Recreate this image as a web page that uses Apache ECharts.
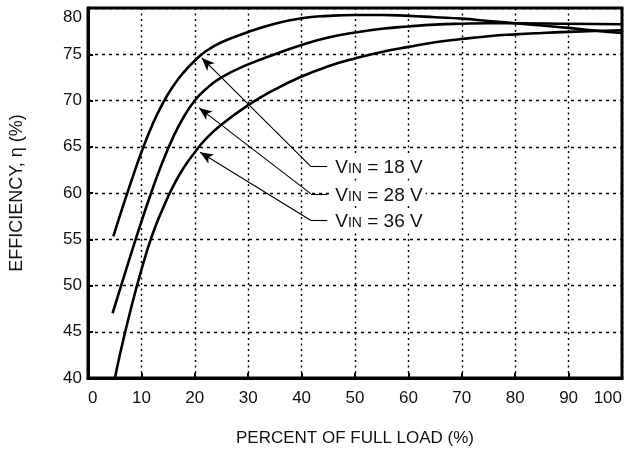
<!DOCTYPE html>
<html>
<head>
<meta charset="utf-8">
<script src="https://cdn.jsdelivr.net/npm/echarts@6/dist/echarts.min.js"></script>
<style>
html,body{margin:0;padding:0;background:#fff;}
#c{width:640px;height:456px;}
</style>
</head>
<body>
<div id="c"></div>
<script>
// ---- data ----
const load18 = [4.75, 6, 8, 10, 12, 14, 16, 18, 20, 22, 25, 30, 35, 40, 45, 50, 55, 60, 65, 70, 75, 80, 85, 90, 95, 100];
const eff18  = [55.3, 57.6, 61.1, 64.4, 67.3, 69.7, 71.6, 73.1, 74.3, 75.3, 76.3, 77.4, 78.3, 78.9, 79.15, 79.25, 79.25, 79.15, 79.0, 78.85, 78.6, 78.35, 78.1, 77.85, 77.55, 77.3];

const load28 = [4.6, 6, 8, 10, 12, 14, 16, 18, 20, 22, 25, 30, 35, 40, 45, 50, 55, 60, 65, 70, 75, 80, 90, 100];
const eff28  = [47.0, 49.6, 53.3, 56.9, 60.3, 63.4, 66.1, 68.3, 70.0, 71.2, 72.5, 73.9, 75.0, 76.0, 76.8, 77.35, 77.75, 78.0, 78.2, 78.3, 78.35, 78.35, 78.3, 78.25];

const load36 = [5.05, 6, 8, 10, 12, 14, 16, 18, 20, 22, 25, 30, 35, 40, 45, 50, 55, 60, 65, 70, 75, 80, 85, 90, 95, 100];
const eff36  = [40.0, 42.6, 47.4, 51.7, 55.4, 58.3, 60.8, 62.8, 64.4, 65.8, 67.4, 69.5, 71.2, 72.6, 73.7, 74.55, 75.25, 75.8, 76.3, 76.65, 76.95, 77.15, 77.3, 77.42, 77.52, 77.6];

const seriesVin = ['18', '28', '36'];
// annotations (data coordinates): arrow tip and label leader
const arrowTipX = [21.3, 20.8, 21.0];
const arrowTipY = [74.6, 69.2, 64.4];
const leaderX0 = [41.76, 41.76, 41.76];
const leaderX1 = [44.8, 44.8, 44.8];
const leaderY  = [62.86, 59.91, 57.03];

const xMin = 0, xMax = 100, xStep = 10;
const yMin = 40, yMax = 80, yStep = 5;

const FONT = "'Liberation Sans', Arial, Helvetica, sans-serif";
const TXT = '#111';

function pairs(xs, ys) { return xs.map((x, i) => [x, ys[i]]); }
const allX = [load18, load28, load36];
const allY = [eff18, eff28, eff36];

const series = seriesVin.map((v, i) => ({
  type: 'line',
  data: pairs(allX[i], allY[i]),
  smooth: 0.5,
  showSymbol: false,
  clip: true,
  lineStyle: { color: '#000', width: 2.6 },
  silent: true,
  z: 3,
  markLine: {
    silent: true,
    animation: false,
    symbolSize: [8, 13],
    lineStyle: { color: '#000', width: 1.1, type: 'solid' },
    emphasis: { disabled: true },
    data: [
      [
        { coord: [leaderX0[i], leaderY[i]], symbol: 'none', label: { show: false } },
        { coord: [arrowTipX[i], arrowTipY[i]], symbol: 'arrow' }
      ],
      [
        { coord: [leaderX0[i], leaderY[i]], symbol: 'none' },
        {
          coord: [leaderX1[i], leaderY[i]], symbol: 'none',
          label: {
            show: true,
            position: 'end',
            distance: 5,
            backgroundColor: '#fff',
            padding: [1, 3, 1, 3],
            formatter: '{v|V}{s|IN}{v| = ' + v + ' V}',
            rich: {
              v: { fontSize: 19, fontFamily: FONT, color: TXT, lineHeight: 22, verticalAlign: 'bottom' },
              s: { fontSize: 14, fontFamily: FONT, color: TXT, lineHeight: 22, verticalAlign: 'bottom', padding: [0, 0, 1, 0] }
            }
          }
        }
      ]
    ]
  }
}));

const chart = echarts.init(document.getElementById('c'), null, { renderer: 'canvas' });
chart.setOption({
  animation: false,
  backgroundColor: '#fff',
  grid: { left: 88, right: 18, top: 8, bottom: 78, show: true, borderColor: '#000', borderWidth: 3, backgroundColor: 'transparent' },
  xAxis: {
    type: 'value', min: xMin, max: xMax, interval: xStep,
    name: 'PERCENT OF FULL LOAD (%)', nameLocation: 'middle', nameGap: 52,
    nameTextStyle: { fontSize: 17, fontFamily: FONT, color: TXT },
    axisLine: { show: true, lineStyle: { color: '#000', width: 3 } },
    axisTick: { show: true, inside: true, length: 5, lineStyle: { color: '#000', width: 2 } },
    axisLabel: { fontSize: 17, fontFamily: FONT, color: TXT, margin: 12, alignMinLabel: 'left', alignMaxLabel: 'right' },
    splitLine: { show: true, lineStyle: { color: '#000', width: 1.4, type: [2, 3.5] } }
  },
  yAxis: {
    type: 'value', min: yMin, max: yMax, interval: yStep,
    name: 'EFFICIENCY, \u03b7 (%)', nameLocation: 'middle', nameGap: 62, nameRotate: 90,
    nameTextStyle: { fontSize: 18, fontFamily: FONT, color: TXT },
    axisLine: { show: true, lineStyle: { color: '#000', width: 3 } },
    axisTick: { show: true, inside: true, length: 5, lineStyle: { color: '#000', width: 2 } },
    axisLabel: {
      fontSize: 17, fontFamily: FONT, color: TXT, margin: 6,
      formatter: function (val) { return val === yMax ? '{top|' + val + '}' : String(val); },
      rich: { top: { fontSize: 17, fontFamily: FONT, color: TXT, padding: [18, 0, 0, 0] } }
    },
    splitLine: { show: true, lineStyle: { color: '#000', width: 1.4, type: [3, 4] } }
  },
  series: series
});
</script>
</body>
</html>
